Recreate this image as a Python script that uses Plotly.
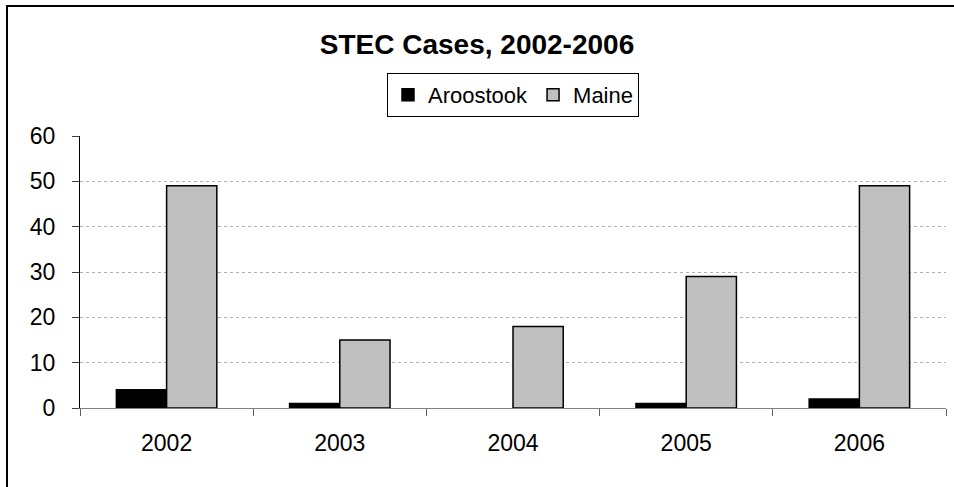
import plotly.graph_objects as go

years = ["2002", "2003", "2004", "2005", "2006"]
aroostook = [4, 1, 0, 1, 2]
maine = [49, 15, 18, 29, 49]
y_ticks = [0, 10, 20, 30, 40, 50, 60]

font_family = "Liberation Sans, Arial, sans-serif"

fig = go.Figure()
fig.add_trace(go.Bar(name="Aroostook", x=years, y=aroostook,
                     marker=dict(color="#000000",
                                 line=dict(color="#000000",
                                           width=[0 if v == 0 else 1.5 for v in aroostook]))))
fig.add_trace(go.Bar(name="Maine", x=years, y=maine,
                     marker=dict(color="#C0C0C0", line=dict(color="#000000", width=1.5))))

W, H = 954, 487
L, R, T, B = 80, 8, 136, 79
pw, ph = W - L - R, H - T - B

def px_x(x):
    return (x - L) / pw

def px_y(y):
    return (H - B - y) / ph

fig.update_layout(
    width=W, height=H,
    margin=dict(l=L, r=R, t=T, b=B),
    paper_bgcolor="white", plot_bgcolor="white",
    font=dict(family=font_family, color="#000000", size=22),
    title=dict(text="<b>STEC Cases, 2002-2006</b>", x=0.5, xanchor="center",
               y=1 - 44 / H, yanchor="middle", font=dict(size=28, family=font_family)),
    barmode="group", bargap=0.42, bargroupgap=0,
    showlegend=True,
    legend=dict(orientation="h", x=0.5, xanchor="center", y=px_y(95), yanchor="middle",
                bordercolor="#000000", borderwidth=1, bgcolor="white",
                font=dict(size=22, family=font_family), itemwidth=30,
                traceorder="normal"),
    xaxis=dict(type="category", showline=True, linecolor="#808080", linewidth=1,
               ticks="outside", tickson="boundaries", ticklen=7, tickcolor="#606060",
               showgrid=False, tickfont=dict(size=23), ticklabelstandoff=14),
    yaxis=dict(range=[0, 60], tickvals=y_ticks, showline=True, linecolor="#000000", linewidth=1,
               ticks="outside", ticklen=7, tickcolor="#404040",
               showgrid=True, gridcolor="#B0B0B0", griddash="dot", gridwidth=1,
               zeroline=False, tickfont=dict(size=23), ticklabelstandoff=12),
    shapes=[dict(type="rect", xref="paper", yref="paper",
                 x0=px_x(7), x1=px_x(W + 20), y0=px_y(H + 20), y1=px_y(6),
                 line=dict(color="#000000", width=2), fillcolor="rgba(0,0,0,0)", layer="below")],
)

fig.write_html("out.html", config={"displayModeBar": False},
               post_script="document.body.style.margin='0';document.body.style.overflow='hidden';")
